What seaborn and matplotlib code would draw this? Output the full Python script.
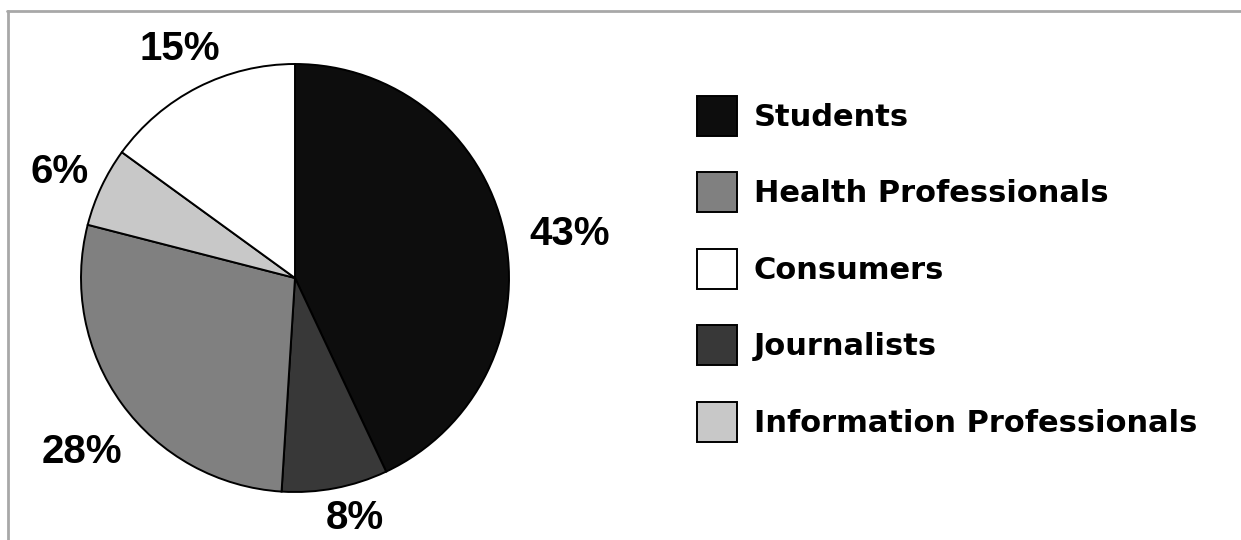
import numpy as np
import matplotlib
matplotlib.use("Agg")
import matplotlib.pyplot as plt
from matplotlib.lines import Line2D
from matplotlib.patches import Patch
import seaborn as sns

# Audience shares, drawn clockwise from 12 o'clock
slice_labels = ["Students", "Journalists", "Health Professionals",
                "Information Professionals", "Consumers"]
slice_values = [43, 8, 28, 6, 15]
slice_colors = ["#0d0d0d", "#383838", "#808080", "#c8c8c8", "#ffffff"]

# Legend order
legend_order = ["Students", "Health Professionals", "Consumers",
                "Journalists", "Information Professionals"]

# Percentage label placement: distance (in radii) and angular nudge (deg)
label_dist = [1.30, 1.154, 1.285, 1.205, 1.20]
label_turn = [-3.4, 3.2, 3.2, 0.9, -0.4]

sns.set_theme(style="white")
plt.rcParams["font.family"] = ["Liberation Sans", "DejaVu Sans"]

W, H = 1241, 540
fig = plt.figure(figsize=(W / 100, H / 100), dpi=100)
fig.patch.set_facecolor("white")

# Axes in pixel units over the whole canvas (y measured upward)
ax = fig.add_axes([0, 0, 1, 1])
cx, cy, R = 295, H - 278, 214

wedges, _, autotexts = ax.pie(
    slice_values,
    colors=slice_colors,
    startangle=90,
    counterclock=False,
    center=(cx, cy),
    radius=R,
    autopct=lambda p: f"{p:.0f}%",
    wedgeprops=dict(edgecolor="black", linewidth=1.4),
    textprops=dict(fontsize=29, fontweight="bold", color="black"),
    frame=True,
)
for w, t, d, turn in zip(wedges, autotexts, label_dist, label_turn):
    ang = np.deg2rad((w.theta1 + w.theta2) / 2 + turn)
    t.set_position((cx + d * R * np.cos(ang),
                    cy + d * R * np.sin(ang) + 3.5))
    t.set_va("center_baseline")

ax.set_xlim(0, W)
ax.set_ylim(0, H)
ax.set_aspect("equal")
ax.axis("off")

color_of = dict(zip(slice_labels, slice_colors))
handles = [Patch(facecolor=color_of[n], edgecolor="black", linewidth=1.4)
           for n in legend_order]
leg = fig.legend(handles, legend_order,
                 loc="upper left", bbox_to_anchor=(697 / W, 1 - 96 / H),
                 frameon=False,
                 prop=dict(family="DejaVu Sans", weight="bold", size=22),
                 handlelength=1.31, handleheight=1.64, handletextpad=0.55,
                 labelspacing=1.19, borderpad=0, borderaxespad=0)
for t in leg.get_texts():
    t.set_color("black")

# Grey frame lines along the top and left edges
fig.add_artist(Line2D([7 / W, 1], [1 - 10.5 / H, 1 - 10.5 / H],
                      color="#a8a8a8", linewidth=2.0))
fig.add_artist(Line2D([7.5 / W, 7.5 / W], [0, 1 - 10.5 / H],
                      color="#a8a8a8", linewidth=2.0))

fig.savefig("out.png", dpi=100, facecolor="white")
